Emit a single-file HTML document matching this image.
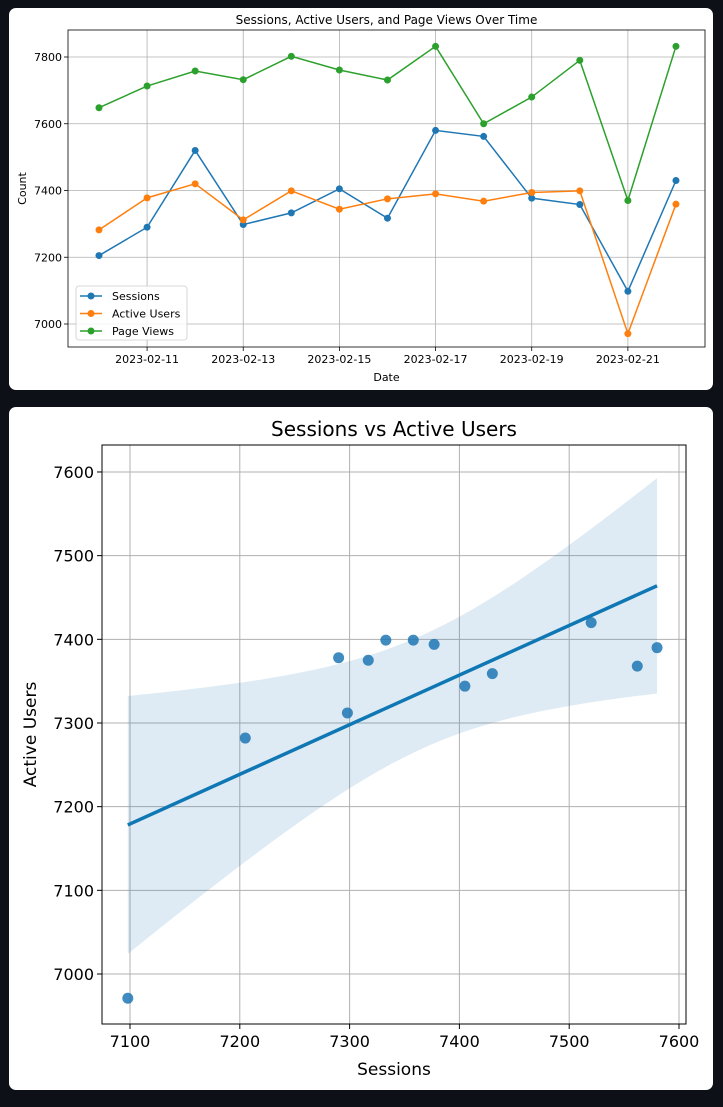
<!DOCTYPE html>
<html><head><meta charset="utf-8"><style>
body{margin:0;background:#0d1117;width:723px;height:1107px;overflow:hidden;font-family:"Liberation Sans","DejaVu Sans",sans-serif}
svg{display:block}
text{font-family:"DejaVu Sans","Liberation Sans",sans-serif;fill:#000}
</style></head><body>
<svg id="svg" width="723" height="1107">
<rect x="9" y="8" width="704" height="382" rx="7" fill="#fff"/>
<rect x="9" y="407" width="704" height="683" rx="7" fill="#fff"/>
<g id="c1"></g>
<g id="c2"></g>
</svg>
<script>
const dates=["2023-02-10","2023-02-11","2023-02-12","2023-02-13","2023-02-14","2023-02-15","2023-02-16","2023-02-17","2023-02-18","2023-02-19","2023-02-20","2023-02-21","2023-02-22"];
const sessions=[7205,7290,7520,7298,7333,7405,7317,7580,7562,7377,7358,7098,7430];
const activeUsers=[7282,7378,7420,7312,7399,7344,7375,7390,7368,7394,7399,6971,7359];
const pageViews=[7648,7713,7758,7732,7802,7761,7731,7832,7600,7680,7790,7370,7832];
const xTickLabels=["2023-02-11","2023-02-13","2023-02-15","2023-02-17","2023-02-19","2023-02-21"];
const yTicks1=[7000,7200,7400,7600,7800];
const xTicks2=[7100,7200,7300,7400,7500,7600];
const yTicks2=[7000,7100,7200,7300,7400,7500,7600];

const NS="http://www.w3.org/2000/svg";
function mk(p,t,a,txt){const e=document.createElementNS(NS,t);for(const k in a)e.setAttribute(k,a[k]);if(txt!=null)e.textContent=txt;p.appendChild(e);return e;}

// chart 1
const c1=document.getElementById('c1');
const L1=68,R1=705,T1=30,B1=347;
const d0=new Date(dates[0]).getTime();
const dayIdx=s=>(new Date(s).getTime()-d0)/86400000;
const x1=d=>99+dayIdx(d)*48.08;
const y1=v=>324-(v-7000)*0.33375;
xTickLabels.forEach(d=>{const x=x1(d);
 let g=mk(c1,'line',{x1:x,x2:x,y1:T1,y2:B1,stroke:'#b0b0b0','stroke-width':0.8});
 
 mk(c1,'line',{x1:x,x2:x,y1:B1,y2:B1+4,stroke:'#000','stroke-width':0.8});
 let t=mk(c1,'text',{x:x,y:B1+16,'font-size':11,'text-anchor':'middle'},d);
 });
yTicks1.forEach(v=>{const y=y1(v);
 let g=mk(c1,'line',{x1:L1,x2:R1,y1:y,y2:y,stroke:'#b0b0b0','stroke-width':0.8});
 
 mk(c1,'line',{x1:L1-4,x2:L1,y1:y,y2:y,stroke:'#000','stroke-width':0.8});
 let t=mk(c1,'text',{x:L1-6,y:y+4,'font-size':11,'text-anchor':'end'},v);
 });
mk(c1,'rect',{x:L1,y:T1,width:R1-L1,height:B1-T1,fill:'none',stroke:'#000','stroke-width':0.8});
const series=[[sessions,'#1f77b4','Sessions'],[activeUsers,'#ff7f0e','Active Users'],[pageViews,'#2ca02c','Page Views']];
series.forEach(([arr,col,nm])=>{
 let p=mk(c1,'polyline',{points:arr.map((v,i)=>x1(dates[i])+','+y1(v)).join(' '),fill:'none',stroke:col,'stroke-width':1.5});
 
 arr.forEach((v,i)=>{let c=mk(c1,'circle',{cx:x1(dates[i]),cy:y1(v),r:3.5,fill:col});
  });
});
let lg=mk(c1,'g',{});

mk(lg,'rect',{x:76,y:286,width:111,height:54,rx:3,fill:'#fff','fill-opacity':0.85,stroke:'#ccc','stroke-width':0.8});
series.forEach(([arr,col,nm],i)=>{const y=296+i*17.5;
 mk(lg,'line',{x1:80,x2:102,y1:y,y2:y,stroke:col,'stroke-width':1.5});
 mk(lg,'circle',{cx:91,cy:y,r:3.5,fill:col});
 let t=mk(lg,'text',{x:112,y:y+4,'font-size':11},nm);
 });
let t1=mk(c1,'text',{x:(L1+R1)/2,y:24,'font-size':12,'text-anchor':'middle'},'Sessions, Active Users, and Page Views Over Time');

let xl=mk(c1,'text',{x:(L1+R1)/2,y:381,'font-size':11,'text-anchor':'middle'},'Date');

let yl=mk(c1,'text',{x:26,y:(T1+B1)/2,'font-size':11,'text-anchor':'middle',transform:`rotate(-90 26 ${(T1+B1)/2})`},'Count');


// chart 2
const c2=document.getElementById('c2');
const L2=102,R2=686,T2=445,B2=1024;
const x2=v=>130+(v-7100)*1.098;
const y2=v=>974-(v-7000)*0.8367;
xTicks2.forEach(v=>{const x=x2(v);
 let g=mk(c2,'line',{x1:x,x2:x,y1:T2,y2:B2,stroke:'#b0b0b0','stroke-width':1});
 
 mk(c2,'line',{x1:x,x2:x,y1:B2,y2:B2+5,stroke:'#000'});
 let t=mk(c2,'text',{x:x,y:B2+23,'font-size':16,'text-anchor':'middle'},v);
 });
yTicks2.forEach(v=>{const y=y2(v);
 let g=mk(c2,'line',{x1:L2,x2:R2,y1:y,y2:y,stroke:'#b0b0b0','stroke-width':1});
 
 mk(c2,'line',{x1:L2-5,x2:L2,y1:y,y2:y,stroke:'#000'});
 let t=mk(c2,'text',{x:L2-8,y:y+6,'font-size':16,'text-anchor':'end'},v);
 });
// regression
const n=sessions.length;
const mx=sessions.reduce((a,b)=>a+b)/n,my=activeUsers.reduce((a,b)=>a+b)/n;
let sxx=0,sxy=0;sessions.forEach((x,i)=>{sxx+=(x-mx)**2;sxy+=(x-mx)*(activeUsers[i]-my);});
const b=sxy/sxx,a=my-b*mx;
let sse=0;sessions.forEach((x,i)=>{sse+=(activeUsers[i]-a-b*x)**2;});
const s=Math.sqrt(sse/(n-2)),tq=2.8;
const xmin=Math.min(...sessions),xmax=Math.max(...sessions);
const up=[],lo=[];
for(let k=0;k<=40;k++){const x=xmin+(xmax-xmin)*k/40;const yh=a+b*x;const se=tq*s*Math.sqrt(1/n+(x-mx)**2/sxx);
 up.push(x2(x)+','+y2(yh+se));lo.unshift(x2(x)+','+y2(yh-se));}
let band=mk(c2,'polygon',{points:up.concat(lo).join(' '),fill:'#1f77b4','fill-opacity':0.15});

sessions.forEach((v,i)=>{let c=mk(c2,'circle',{cx:x2(v),cy:y2(activeUsers[i]),r:5.5,fill:'#1f77b4','fill-opacity':0.85});
 });
let rl=mk(c2,'line',{x1:x2(xmin),y1:y2(a+b*xmin),x2:x2(xmax),y2:y2(a+b*xmax),stroke:'#0f77b4','stroke-width':3.5});

mk(c2,'rect',{x:L2,y:T2,width:R2-L2,height:B2-T2,fill:'none',stroke:'#000','stroke-width':1});
let t2=mk(c2,'text',{x:(L2+R2)/2,y:436,'font-size':20,'text-anchor':'middle'},'Sessions vs Active Users');

let xl2=mk(c2,'text',{x:(L2+R2)/2,y:1075,'font-size':17,'text-anchor':'middle'},'Sessions');

let yl2=mk(c2,'text',{x:36,y:(T2+B2)/2,'font-size':17,'text-anchor':'middle',transform:`rotate(-90 36 ${(T2+B2)/2})`},'Active Users');

</script>
</body></html>
